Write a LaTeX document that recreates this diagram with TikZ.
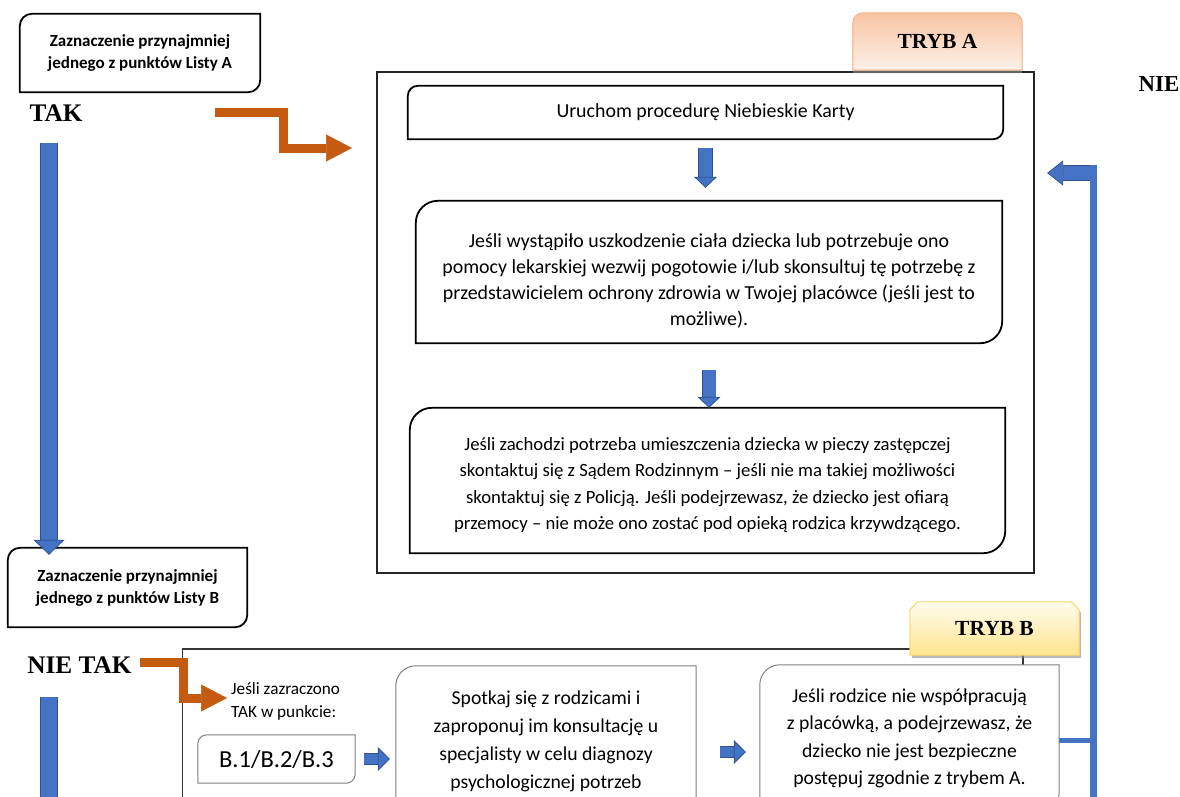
\documentclass[tikz,border=0pt]{standalone}
\usepackage{fontspec}
\setmainfont{Carlito}
\newfontfamily\tnr{Liberation Serif}
\usetikzlibrary{positioning,calc,arrows.meta,shadows}

\definecolor{ordark}{HTML}{C55A11}
\definecolor{bfill}{HTML}{4472C4}
\definecolor{bdark}{HTML}{2F528F}
\definecolor{tabAtop}{HTML}{F8C4A2}
\definecolor{tabAbot}{HTML}{FDF1E9}
\definecolor{tabAline}{HTML}{F4B183}
\definecolor{tabBtop}{HTML}{FFFCEE}
\definecolor{tabBbot}{HTML}{FFE48F}
\definecolor{tabBline}{HTML}{FFD966}
\definecolor{greyedge}{HTML}{808080}

\pgfdeclarelayer{background}
\pgfsetlayers{background,main}

% box outline, round top-left and bottom-right corners
\newcommand{\diagline}[3][]{%
  \begin{pgfonlayer}{background}
    \filldraw[fill=white,#1] (#2.south west) -- ([yshift=-#3]#2.north west)
      arc[start angle=180,end angle=90,radius=#3] -- (#2.north east)
      -- ([yshift=#3]#2.south east)
      arc[start angle=0,end angle=-90,radius=#3] -- cycle;
  \end{pgfonlayer}}
% tab on a frame, round top corners
\newcommand{\tabround}[3][]{%
  \begin{pgfonlayer}{background}
    \path[#1] (#2.south west) -- ([yshift=-#3]#2.north west)
      arc[start angle=180,end angle=90,radius=#3] -- ([xshift=-#3]#2.north east)
      arc[start angle=90,end angle=0,radius=#3] -- (#2.south east) -- cycle;
  \end{pgfonlayer}}
% tab on a frame, cut top corners
\newcommand{\tabsnip}[3][]{%
  \begin{pgfonlayer}{background}
    \path[#1] (#2.south west) -- ([yshift=-#3]#2.north west)
      -- ([xshift=#3]#2.north west) -- ([xshift=-#3]#2.north east)
      -- ([yshift=-#3]#2.north east) -- (#2.south east) -- cycle;
  \end{pgfonlayer}}

\begin{document}
\begin{tikzpicture}[x=1pt,y=-1pt,
    every node/.style={inner sep=0pt},
    body/.style={align=center,font=\fontsize{19.9}{26}\selectfont},
    listtext/.style={align=center,font=\bfseries\fontsize{17}{22}\selectfont},
    yesno/.style={font=\tnr\bfseries\fontsize{25.3}{25}\selectfont},
    tabtext/.style={font=\tnr\bfseries\fontsize{21.5}{21}\selectfont},
    boldline/.style={draw=black,line width=1.8pt},
    thinline/.style={draw=greyedge,line width=1pt},
    orangearrow/.style={draw=ordark,line width=9pt,
      -{Triangle[length=26pt,width=27pt,line width=0.5pt]}},
    blockarrow/.style n args={4}{draw=bfill,line width=#1,shorten >=#4,
      -{Triangle[length=#3,width=#2,line width=0.8pt,color=bdark,fill=bfill]},
      preaction={draw=bdark,line width=#1+1.6pt,-,shorten >=#4+#3}},
    bluebar/.style={draw=bfill,line width=16pt,
      preaction={draw=bdark,line width=17.6pt}},
    blueline/.style={draw=bfill,line width=7pt},
  ]
  \useasboundingbox (0,0) rectangle (1180,796);

  % frame A
  \begin{pgfonlayer}{background}
    \node[draw=black!85,line width=1.2pt,minimum width=657pt,
      minimum height=501pt] (frameA) at (705.5,322.5) {};
  \end{pgfonlayer}
  \node[tabtext,minimum width=169pt,minimum height=57pt] (tabA) at (937.5,41.5) {TRYB A};
  \tabround[draw=tabAline,line width=1pt,top color=tabAtop,bottom color=tabAbot,
    drop shadow={shadow xshift=0pt,shadow yshift=-3pt,opacity=.6,fill=black!45}]{tabA}{10pt}

  \node[listtext,minimum width=240pt,minimum height=78pt] (listA) at (140,53)
    {Zaznaczenie przynajmniej\\jednego z punktów Listy A};
  \diagline[boldline]{listA}{12pt}
  \node[yesno] (tak) at (56,113) {TAK};
  \node[yesno,font=\tnr\bfseries\fontsize{22.8}{22}\selectfont] (nie) at (1159,84) {NIE};

  \node[body,minimum width=595pt,minimum height=53pt] (uruchom) at (705.5,112.5)
    {Uruchom procedurę Niebieskie Karty};
  \diagline[boldline]{uruchom}{10pt}
  \node[body,minimum width=586pt,minimum height=142pt] (uszk) at (709,272)
    {\rule{0pt}{31pt}Jeśli wystąpiło uszkodzenie ciała dziecka lub potrzebuje ono\\
     pomocy lekarskiej wezwij pogotowie i/lub skonsultuj tę potrzebę z\\
     przedstawicielem ochrony zdrowia w Twojej placówce (jeśli jest to\\
     możliwe).};
  \diagline[boldline]{uszk}{22pt}
  \node[body,font=\fontsize{18.7}{26.3}\selectfont,minimum width=595pt,
    minimum height=145pt] (piecza) at (707.5,480.5)
    {\rule{0pt}{22pt}Jeśli zachodzi potrzeba umieszczenia dziecka w pieczy zastępczej\\
     skontaktuj się z Sądem Rodzinnym – jeśli nie ma takiej możliwości\\
     skontaktuj się z Policją. Jeśli podejrzewasz, że dziecko jest ofiarą\\
     przemocy – nie może ono zostać pod opieką rodzica krzywdzącego.};
  \diagline[boldline]{piecza}{22pt}

  \draw[blockarrow={13pt}{23pt}{11pt}{13pt},shorten <=9pt]
    (uruchom.south) -- (uruchom.south |- uszk.north);
  \draw[blockarrow={13pt}{23pt}{11pt}{0pt},shorten <=27pt]
    (uszk.south) -- (uszk.south |- piecza.north);

  \coordinate (orA) at (215,112);
  \coordinate (orAend) at (352,148);
  \draw[orangearrow] (orA) -| ($(orA)!.5!(orAend)$) |- (orAend);

  % list B
  \node[listtext,minimum width=239pt,minimum height=79pt] (listB) at (127.5,587.5)
    {Zaznaczenie przynajmniej\\jednego z punktów Listy B};
  \diagline[boldline]{listB}{12pt}
  \coordinate (downA) at (49,143);
  \draw[blockarrow={16pt}{31pt}{15pt}{-7pt}] (downA) -- (downA |- listB.north);
  \node[yesno] (nietak) at (79.5,665) {NIE TAK};
  \coordinate (downB) at (49,697);
  \draw[bluebar] (downB) -- (49,800);

  % frame B
  \begin{pgfonlayer}{background}
    \draw[draw=black!80,line width=1.6pt] (182.5,800) -- (182.5,649) -- (1023,649) -- (1023,800);
  \end{pgfonlayer}
  \node[tabtext,minimum width=169pt,minimum height=53pt] (tabB) at (994.5,628.5) {TRYB B};
  \tabsnip[draw=tabBline,line width=1pt,top color=tabBtop,bottom color=tabBbot,
    drop shadow={shadow xshift=2pt,shadow yshift=-3pt,opacity=.6,fill=black!45}]{tabB}{8pt}

  \coordinate (orB) at (140,662);
  \coordinate (orBend) at (227,698);
  \draw[orangearrow] (orB) -| ($(orB)!.5!(orBend)$) |- (orBend);

  \node[align=left,anchor=west,font=\fontsize{17.2}{23}\selectfont] (zaz) at (231,701)
    {Jeśli zazraczono\\TAK w punkcie:};
  \node[font=\fontsize{24.5}{24}\selectfont,minimum width=157pt,minimum height=48pt]
    (bcodes) at (276.5,759) {B.1/B.2/B.3};
  \diagline[thinline]{bcodes}{9pt}
  \node[body,font=\fontsize{19.7}{28}\selectfont,minimum width=300pt,minimum height=150pt]
    (spotkaj) at (546,741)
    {Spotkaj się z rodzicami i\\zaproponuj im konsultację u\\
     specjalisty w celu diagnozy\\psychologicznej potrzeb};
  \diagline[thinline]{spotkaj}{20pt}
  \node[body,font=\fontsize{19.7}{27.5}\selectfont,minimum width=299pt,minimum height=147pt]
    (rodzice) at (909.5,738.5)
    {Jeśli rodzice nie współpracują\\z placówką, a podejrzewasz, że\\
     dziecko nie jest bezpieczne\\postępuj zgodnie z trybem A.};
  \diagline[thinline]{rodzice}{20pt}

  \draw[blockarrow={10pt}{24pt}{12pt}{6pt},shorten <=9pt]
    (bcodes.east) -- (bcodes.east -| spotkaj.west);
  \draw[blockarrow={10pt}{24pt}{12pt}{14pt},shorten <=24pt]
    ([yshift=-11pt]spotkaj.east) -- ([yshift=-11pt]spotkaj.east -| rodzice.west);

  % back to mode A
  \coordinate (retbot) at (1093,800);
  \coordinate (rettop) at (1093,165);
  \draw[blueline] (retbot) -- (rettop);
  \draw[blueline,line width=5pt] ([yshift=-1.5pt]rodzice.east)
    -- ([yshift=-1.5pt]rodzice.east -| rettop);
  \coordinate (retA) at (1090,173);
  \draw[blockarrow={14pt}{25pt}{16pt}{12.5pt}] (retA) -- (retA -| frameA.east);
\end{tikzpicture}
\end{document}
